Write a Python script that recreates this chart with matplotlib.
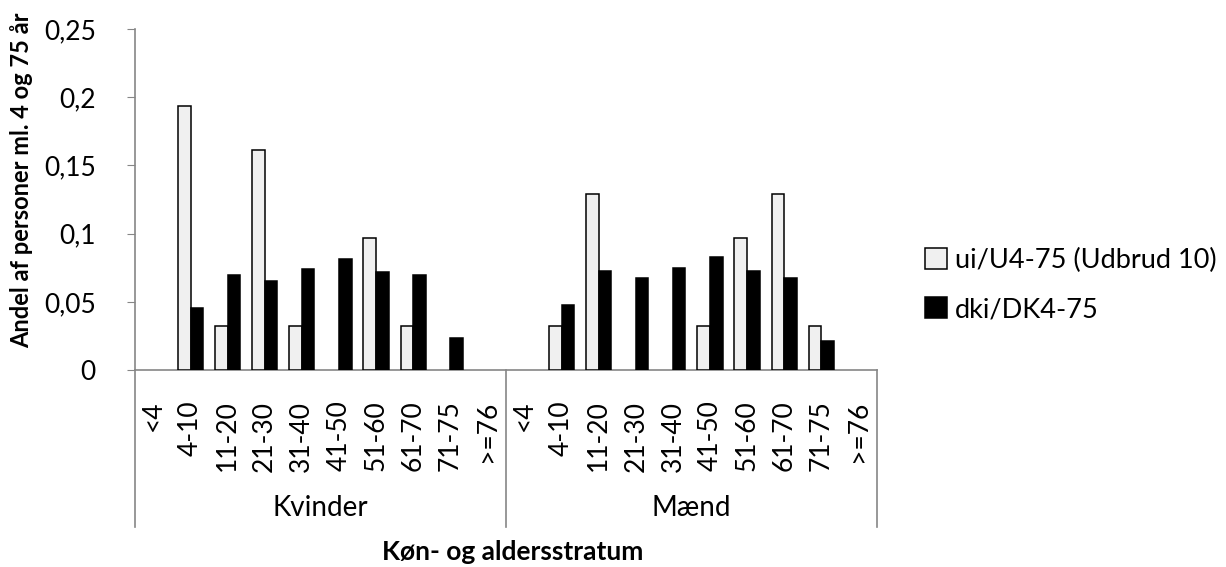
import numpy as np
import matplotlib
matplotlib.use("Agg")
import matplotlib.pyplot as plt
import matplotlib.transforms as mtransforms
from matplotlib.patches import Patch

################################################################################
# Data
################################################################################
age_groups  = ["<4", "4-10", "11-20", "21-30", "31-40", "41-50",
               "51-60", "61-70", "71-75", ">=76"]
sex_groups  = ["Kvinder", "Mænd"]

ui_kvinder  = [0, 0.1935, 0.0323, 0.1613, 0.0323, 0, 0.0968, 0.0323, 0, 0]
ui_maend    = [0, 0.0323, 0.1290, 0, 0, 0.0323, 0.0968, 0.1290, 0.0323, 0]
dk_kvinder  = [0, 0.0457, 0.0694, 0.0655, 0.0743, 0.0814, 0.0721, 0.0694, 0.0237, 0]
dk_maend    = [0, 0.0479, 0.0728, 0.0672, 0.0745, 0.0831, 0.0723, 0.0672, 0.0213, 0]

y_ticks         = [0, 0.05, 0.1, 0.15, 0.2, 0.25]
y_tick_labels   = ["0", "0,05", "0,1", "0,15", "0,2", "0,25"]

label_ui    = "ui/U4-75 (Udbrud 10)"
label_dk    = "dki/DK4-75"

################################################################################
# Style
################################################################################
plt.rcParams["font.family"] = ["Lato", "DejaVu Sans"]
FS          = 19
GREY        = "#868686"
LIGHT       = "#f0f0f0"
BAR_W       = 0.34

################################################################################
# Plot
################################################################################
fig = plt.figure(figsize = (12.26, 5.67), dpi = 100)
ax  = fig.add_axes([0.110, 0.3474, 0.6053, 0.6015])

ui_all  = np.array(ui_kvinder + ui_maend)
dk_all  = np.array(dk_kvinder + dk_maend)
x       = np.arange(len(ui_all))

# empty categories get no outline, like in Excel
ax.bar(x - BAR_W / 2, ui_all, BAR_W, color = LIGHT, edgecolor = "black",
       linewidth = np.where(ui_all > 0, 1.1, 0), zorder = 3)
ax.bar(x + BAR_W / 2, dk_all, BAR_W, color = "black", edgecolor = "black",
       linewidth = np.where(dk_all > 0, 1.1, 0), zorder = 3)

ax.set_xlim(-0.5, len(x) - 0.5)
ax.set_ylim(0, 0.25)

ax.set_yticks(y_ticks)
ax.set_yticklabels(y_tick_labels, fontsize = FS)
ax.set_xticks(x)
ax.set_xticklabels(age_groups * 2, rotation = 90, fontsize = FS)

ax.tick_params(axis = "y", length = 6, color = GREY, pad = 22)
ax.tick_params(axis = "x", length = 0, pad = 22)

for side in ["top", "right"]:
    ax.spines[side].set_visible(False)
for side in ["left", "bottom"]:
    ax.spines[side].set_color(GREY)
    ax.spines[side].set_linewidth(1.2)

########################################
# Group separators and labels
########################################
trans = mtransforms.blended_transform_factory(ax.transData, ax.transAxes)
n_age = len(age_groups)
for xs in [-0.5, n_age - 0.5, 2 * n_age - 0.5]:
    ax.plot([xs, xs], [0, -0.46], color = GREY, linewidth = 1.2,
            transform = trans, clip_on = False)
for i, name in enumerate(sex_groups):
    ax.text(i * n_age + (n_age - 1) / 2, -0.405, name, transform = trans,
            ha = "center", va = "center", fontsize = FS + 1)

fig.text(0.418, 1 - 552 / 567, "Køn- og aldersstratum", ha = "center",
         va = "center", fontsize = FS, fontweight = "bold")
fig.text(0.018, 1 - 180 / 567, "Andel af personer ml. 4 og 75 år",
         ha = "center", va = "center", rotation = 90, fontsize = 17,
         fontweight = "bold")

########################################
# Legend
########################################
handles = [Patch(facecolor = LIGHT, edgecolor = "black", linewidth = 1.1),
           Patch(facecolor = "black", edgecolor = "black", linewidth = 1.1)]
fig.legend(handles, [label_ui, label_dk], loc = "center left",
           bbox_to_anchor = (0.735, 1 - 285 / 567), frameon = False,
           fontsize = FS + 0.5, handlelength = 0.8, handleheight = 0.8,
           handletextpad = 0.3, labelspacing = 0.9)

fig.savefig("out.png", dpi = 100)
